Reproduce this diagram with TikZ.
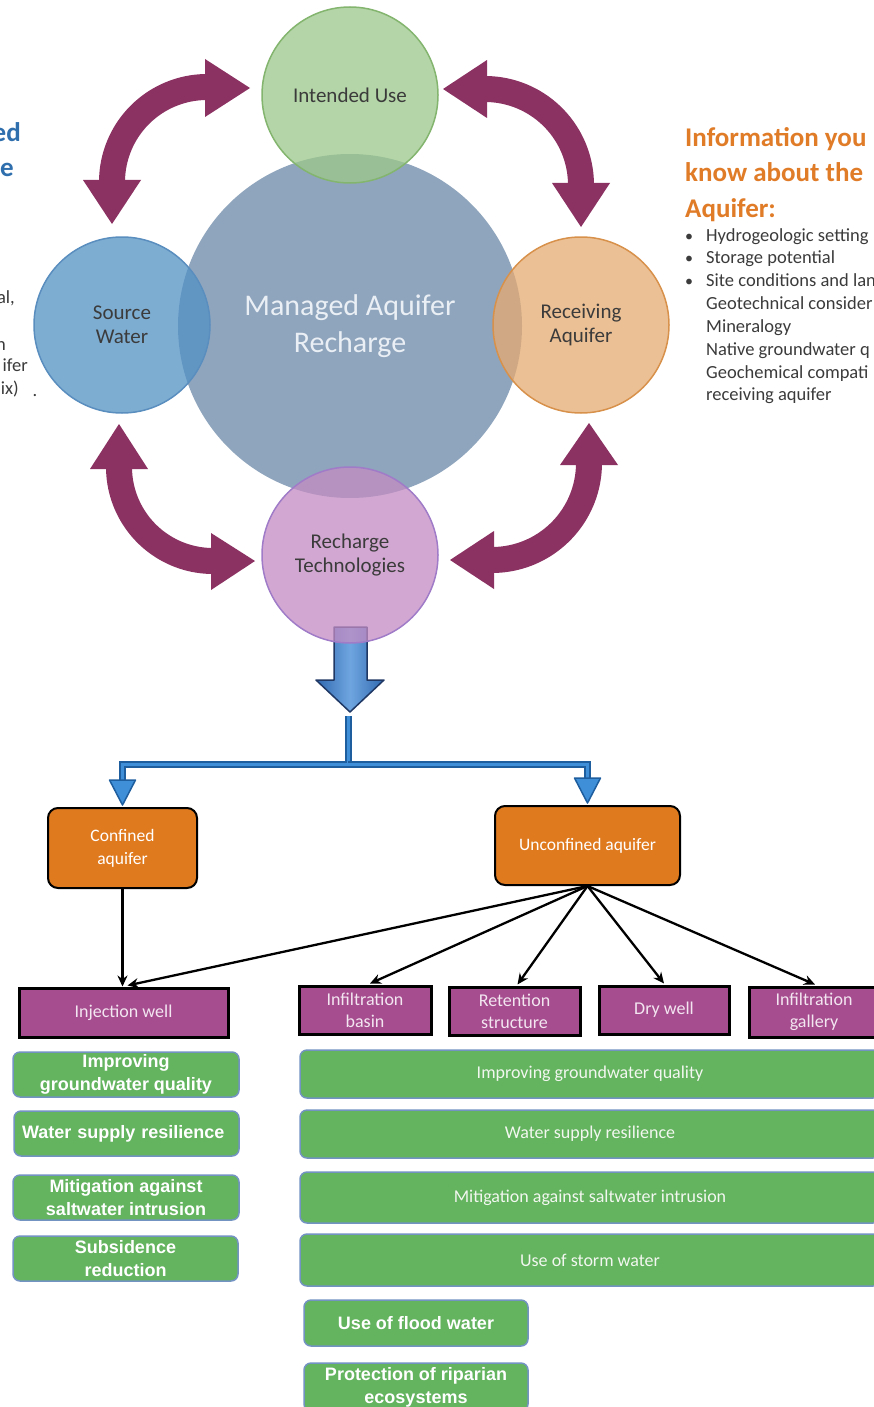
\documentclass[tikz,border=0pt]{standalone}
\usepackage{fontspec}
\setmainfont{Carlito}
\newfontfamily\arialf{Liberation Sans}
\usetikzlibrary{arrows.meta,calc}
\definecolor{arrowc}{HTML}{8C3262}
\definecolor{mainc}{HTML}{8FA5BD}
\definecolor{iuf}{HTML}{9CC88A}
\definecolor{iud}{HTML}{84B56F}
\definecolor{swf}{HTML}{5392C4}
\definecolor{swd}{HTML}{5A8EBF}
\definecolor{raf}{HTML}{E6AB72}
\definecolor{rad}{HTML}{D8914B}
\definecolor{rtf}{HTML}{C48CC3}
\definecolor{rtd}{HTML}{A07CC8}
\definecolor{orangeT}{HTML}{E07B28}
\definecolor{blueT}{HTML}{2F6FAE}
\definecolor{grayT}{HTML}{3B3B3B}
\definecolor{boxO}{HTML}{E07A1F}
\definecolor{boxP}{HTML}{A64D8F}
\definecolor{boxG}{HTML}{63B35F}
\definecolor{edgeG}{HTML}{7393C2}
\definecolor{blueL}{HTML}{3F8FD8}
\definecolor{blueD}{HTML}{1E5D9E}
\definecolor{blueA1}{HTML}{2F68B0}
\definecolor{blueA2}{HTML}{6FA6E0}
\definecolor{blueO}{HTML}{1F3864}
\begin{document}
\begin{tikzpicture}[x=1pt,y=-1pt,
  circ/.style={circle, inner sep=0pt, minimum size=176pt, line width=1.5pt, fill opacity=0.75, draw opacity=1, text opacity=1, text=grayT, align=center, font=\fontsize{21}{24}\selectfont},
  marrow/.style={arrowc, line width=26pt},
  mhead/.style={fill=arrowc},
  obox/.style={rectangle, rounded corners=10pt, draw=black, line width=2pt, fill=boxO, text=white, align=center, inner sep=0pt, font=\fontsize{17.5}{23}\selectfont},
  pbox/.style={rectangle, draw=black, line width=3pt, fill=boxP, text={rgb,255:red,243;green,230;blue,241}, align=center, inner sep=0pt, font=\fontsize{18}{22}\selectfont},
  gboxL/.style={rectangle, rounded corners=7pt, draw=edgeG, line width=1.5pt, fill=boxG, text=white, align=center, inner sep=0pt, font=\arialf\bfseries\fontsize{18}{23}\selectfont},
  gboxR/.style={rectangle, rounded corners=7pt, draw=edgeG, line width=1.5pt, fill=boxG, text={rgb,255:red,242;green,247;blue,239}, align=center, inner sep=0pt, font=\fontsize{18}{22}\selectfont},
  conn/.style={draw=black, line width=2.3pt, -{Stealth[length=11pt,width=10pt]}},
  bluecon/.style={draw=blueD, double=blueL, double distance=3pt, line width=2pt, line join=miter},
  bluehead/.style={fill=blueL, draw=blueD, line width=1.5pt, line join=round},
  bodytext/.style={text=grayT, inner sep=0pt, font=\fontsize{18.5}{22}\selectfont},
  titletext/.style={text=orangeT, inner sep=0pt, font=\bfseries\fontsize{27}{35}\selectfont}
]
\useasboundingbox (0,0) rectangle (873,1407);
\fill[white] (0,0) rectangle (873,1407);

% central circle
\node[circle, inner sep=0pt, minimum size=344pt, fill=mainc, align=center,
      text={rgb,255:red,234;green,239;blue,245}, font=\fontsize{30}{37}\selectfont] (mar) at (350,326) {Managed Aquifer\\Recharge};

% blue down arrow (under recharge circle)
\path[left color=blueA1, right color=blueA1, middle color=blueA2, draw=blueO, line width=1.5pt, line join=round]
  (334,627) -- (367,627) -- (367,680) -- (384,680) -- (350,712) -- (316,680) -- (334,680) -- cycle;

% small circles
\node[circ, fill=iuf, draw=iud] (iu) at (350,95) {Intended Use};
\node[circ, fill=swf, draw=swd] (sw) at (122,325) {Source\\Water};
\node[circ, fill=raf, draw=rad] (ra) at (581,325) {Receiving\\Aquifer};
\node[circ, fill=rtf, draw=rtd] (rt) at (350,555) {Recharge\\Technologies};

% curved double arrows
\draw[marrow] plot[domain=180:270, samples=40, variable=\t] ({207+95*cos(\t)},{182+95*sin(\t)});
\fill[mhead] (205,59) -- (250,88) -- (205,117) -- cycle;
\fill[mhead] (83,180) -- (112,224) -- (141,180) -- cycle;

\draw[marrow] plot[domain=270:360, samples=40, variable=\t] ({485+96*cos(\t)},{185+96*sin(\t)});
\fill[mhead] (487,60) -- (443,89) -- (487,118) -- cycle;
\fill[mhead] (552,183) -- (581,227) -- (610,183) -- cycle;

\draw[marrow] plot[domain=90:180, samples=40, variable=\t] ({213+94*cos(\t)},{467+94*sin(\t)});
\fill[mhead] (90,469) -- (119,424) -- (148,469) -- cycle;
\fill[mhead] (211,533) -- (255,561) -- (211,590) -- cycle;

\draw[marrow] plot[domain=0:90, samples=40, variable=\t] ({492+97*cos(\t)},{463+97*sin(\t)});
\fill[mhead] (560,465) -- (589,423) -- (618,465) -- cycle;
\fill[mhead] (494,531) -- (450,560) -- (494,589) -- cycle;

% right info text
\node[titletext, anchor=base west] (t1) at (685,147) {Information you};
\node[titletext, anchor=base west] (t2) at (685,182) {know about the};
\node[titletext, anchor=base west] (t3) at (685,217) {Aquifer:};
\foreach \i/\yy/\txt in {1/241/Hydrogeologic setting,2/263/Storage potential,3/286/Site conditions and lan,4/309/Geotechnical consider,5/332/Mineralogy,6/355/Native groundwater q,7/378/Geochemical compati,8/400/receiving aquifer}
  \node[bodytext, anchor=base west] (b\i) at (706,\yy) {\txt};
\foreach \i/\yy in {1/241,2/263,3/286}
  \node[bodytext, anchor=base] (d\i) at (689,\yy) {\fontsize{16}{16}\selectfont\textbullet};

% left cut-off text
\node[text=blueT, inner sep=0pt, font=\bfseries\fontsize{27}{35}\selectfont, anchor=base east] (l1) at (21,142) {ed};
\node[text=blueT, inner sep=0pt, font=\bfseries\fontsize{27}{35}\selectfont, anchor=base east] (l2) at (14,177) {e};
\node[bodytext, anchor=base east] (l3) at (15,303) {al,};
\node[bodytext, anchor=base east] (l4) at (6,350) {n};
\node[bodytext, anchor=base east] (l5) at (28,371) {ifer};
\node[bodytext, anchor=base east] (l6) at (19,394) {ix)};
\node[bodytext, anchor=base] (l7) at (35,396) {.};

% orange boxes
\node[obox, minimum width=149pt, minimum height=80pt] (conf) at (122.5,848) {Confined\\aquifer};
\node[obox, minimum width=185pt, minimum height=79pt] (unconf) at (587.5,845.5) {Unconfined aquifer};

% blue connectors
\coordinate (btip) at (348,716);
\coordinate (bj) at (348,764);
\draw[bluecon] (btip) -- (bj) -| ($(conf.north)+(0,-26)$);
\draw[bluecon] (bj) -| ($(unconf.north)+(0,-26)$);
\filldraw[bluehead] ($(conf.north)+(-13,-27)$) -- ($(conf.north)+(0,-2)$) -- ($(conf.north)+(13,-27)$) -- cycle;
\filldraw[bluehead] ($(unconf.north)+(-13,-27)$) -- ($(unconf.north)+(0,-2)$) -- ($(unconf.north)+(13,-27)$) -- cycle;

% purple boxes
\node[pbox, minimum width=209pt, minimum height=49pt] (inj) at (123.5,1012.5) {Injection well};
\node[pbox, minimum width=132pt, minimum height=48pt] (basin) at (365,1010) {Infiltration\\basin};
\node[pbox, minimum width=131pt, minimum height=48pt] (ret) at (514.5,1011) {Retention\\structure};
\node[pbox, minimum width=130pt, minimum height=48pt] (dry) at (664,1010) {Dry well};
\node[pbox, minimum width=130pt, minimum height=50pt] (gal) at (814,1012) {Infiltration\\gallery};

% black connectors
\draw[conn] (conf.south) -- (conf.south |- inj.north);
\draw[conn] (unconf.south) -- ($(inj.north)+(4,-1)$);
\draw[conn] (unconf.south) -- ($(basin.north)+(5,-1)$);
\draw[conn] (unconf.south) -- ($(ret.north)+(3,-1)$);
\draw[conn] (unconf.south) -- ($(dry.north)+(0,-1)$);
\draw[conn] (unconf.south) -- ($(gal.north)+(1,-1)$);

% left green boxes
\node[gboxL, minimum width=226pt, minimum height=45pt] (g1) at (126,1074.5) {Improving\\groundwater quality};
\node[gboxL, text width=209pt, inner xsep=8pt, minimum height=45pt, align=left] (g2) at (126.5,1133.5) {Water supply resilience};
\node[gboxL, minimum width=226pt, minimum height=45pt] (g3) at (126,1197.5) {Mitigation against\\saltwater intrusion};
\node[gboxL, minimum width=225pt, minimum height=45pt] (g4) at (125.5,1258.5) {Subsidence\\reduction};

% right green boxes
\node[gboxR, minimum width=580pt, minimum height=48pt] (r1) at (590,1074) {Improving groundwater quality};
\node[gboxR, minimum width=580pt, minimum height=48pt] (r2) at (590,1134) {Water supply resilience};
\node[gboxR, minimum width=580pt, minimum height=51pt] (r3) at (590,1197.5) {Mitigation against saltwater intrusion};
\node[gboxR, minimum width=580pt, minimum height=52pt] (r4) at (590,1260) {Use of storm water};
\node[gboxL, minimum width=224pt, minimum height=46pt] (r5) at (416,1323) {Use of flood water};
\node[gboxL, minimum width=224pt, minimum height=48pt] (r6) at (416,1387) {Protection of riparian\\ecosystems};
\end{tikzpicture}
\end{document}
